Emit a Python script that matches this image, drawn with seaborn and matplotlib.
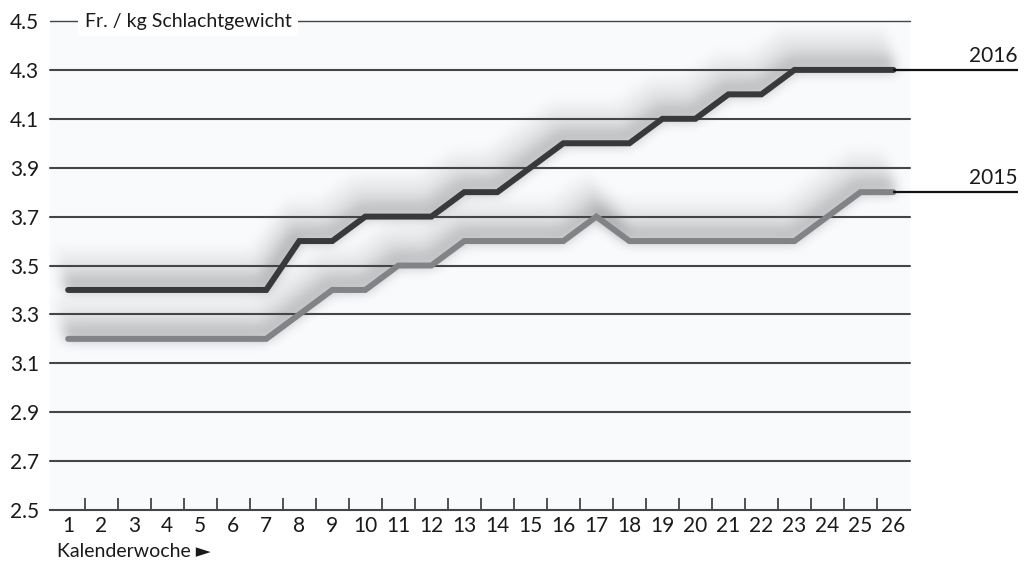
import numpy as np
import pandas as pd
import matplotlib
matplotlib.use("Agg")
import matplotlib.pyplot as plt
import seaborn as sns

# Weekly slaughter-weight prices, CHF per kg
weeks = list(range(1, 27))
price_2016 = [3.4, 3.4, 3.4, 3.4, 3.4, 3.4, 3.4, 3.6, 3.6, 3.7, 3.7, 3.7, 3.8,
              3.8, 3.9, 4.0, 4.0, 4.0, 4.1, 4.1, 4.2, 4.2, 4.3, 4.3, 4.3, 4.3]
price_2015 = [3.2, 3.2, 3.2, 3.2, 3.2, 3.2, 3.2, 3.3, 3.4, 3.4, 3.5, 3.5, 3.6,
              3.6, 3.6, 3.6, 3.7, 3.6, 3.6, 3.6, 3.6, 3.6, 3.6, 3.7, 3.8, 3.8]
years = ["2016", "2015"]
y_ticks = [2.5, 2.7, 2.9, 3.1, 3.3, 3.5, 3.7, 3.9, 4.1, 4.3, 4.5]
unit_label = "Fr. / kg Schlachtgewicht"
x_label = "Kalenderwoche \u25ba"

df = pd.concat([
    pd.DataFrame({"Woche": weeks, "Preis": price_2016, "Jahr": "2016"}),
    pd.DataFrame({"Woche": weeks, "Preis": price_2015, "Jahr": "2015"}),
])

sns.set_theme(style="white")
plt.rcParams["font.family"] = ["Lato", "DejaVu Sans"]
FS = 15
FS_SMALL = 14

line_colors = {"2016": "#393939", "2015": "#838387"}
grid_color = "#454545"
text_color = "#1a1a1a"


def gauss_blur(a, sigma):
    r = int(3 * sigma)
    x = np.arange(-r, r + 1)
    k = np.exp(-x ** 2 / (2.0 * sigma ** 2))
    k /= k.sum()
    p = np.pad(a, ((r, r), (0, 0)))
    b = sum(k[i] * p[i:i + a.shape[0]] for i in range(2 * r + 1))
    p = np.pad(b, ((0, 0), (r, r)))
    return sum(k[i] * p[:, i:i + a.shape[1]] for i in range(2 * r + 1))


class SoftShadow:
    """agg filter: smears a drawn line upward-left, fading with distance,
    then softens it into a dark translucent shadow."""

    def __init__(self, reach=42, decay=17.0, slant=0.3, sigma=6.0, strength=0.8):
        self.reach, self.decay, self.slant = reach, decay, slant
        self.sigma, self.strength = sigma, strength

    def __call__(self, im, dpi):
        pad = self.reach + int(3 * self.sigma) + 4
        a = np.pad(im[:, :, 3].astype(float), pad)
        w = np.exp(-np.arange(self.reach) / self.decay)
        w /= w.sum()
        acc = np.zeros_like(a)
        for k, wk in enumerate(w):
            shifted = np.roll(a, -k, axis=0)
            shifted = np.roll(shifted, -int(round(k * self.slant)), axis=1)
            acc += wk * shifted
        acc = gauss_blur(acc, self.sigma)
        out = np.zeros(a.shape + (4,))
        out[..., 3] = np.clip(acc * self.strength, 0, 1)
        return out, -pad, -pad


fig = plt.figure(figsize=(10.24, 5.66), dpi=100)
fig.patch.set_facecolor("white")
ax = fig.add_axes([50 / 1024, 1 - 510 / 566, 860 / 1024, (510 - 21) / 566])
ax.set_facecolor("#f9fafc")

# soft shadows rising above the price lines
sns.lineplot(data=df, x="Woche", y="Preis", hue="Jahr", hue_order=years,
             palette={"2016": "#000000", "2015": "#000000"}, linewidth=5.5,
             legend=False, ax=ax)
for ln in ax.lines:
    ln.set_agg_filter(SoftShadow())
    ln.set_zorder(1)
n_shadow = len(ax.lines)

# price lines
sns.lineplot(data=df, x="Woche", y="Preis", hue="Jahr", hue_order=years,
             palette=line_colors, linewidth=4.3, legend=False, ax=ax)
for ln in ax.lines[n_shadow:]:
    ln.set_zorder(3)
    ln.set_solid_capstyle("round")
    ln.set_solid_joinstyle("miter")

# horizontal rules
for v in y_ticks[1:]:
    ax.axhline(v, color=grid_color, lw=1.5 if v < 4.45 else 1.0,
               zorder=2, clip_on=False)

ax.set_xlim(0.45, 26.5)
ax.set_ylim(2.5, 4.5)
for side in ["top", "right", "left"]:
    ax.spines[side].set_visible(False)
ax.spines["bottom"].set_color(grid_color)
ax.spines["bottom"].set_linewidth(1.5)
ax.spines["bottom"].set_zorder(2)

ax.set_xticks(weeks)
ax.set_xticklabels([str(w) for w in weeks], fontsize=FS, color=text_color)
ax.set_xticks([w + 0.5 for w in weeks[:-1]], minor=True)
ax.tick_params(axis="x", which="major", length=0, pad=4)
ax.tick_params(axis="x", which="minor", direction="in", length=9,
               width=1.3, color=grid_color, bottom=True)
ax.set_yticks(y_ticks)
ax.set_yticklabels([f"{v:.1f}" for v in y_ticks], fontsize=FS, color=text_color)
ax.tick_params(axis="y", length=0, pad=8)
ax.set_xlabel("")
ax.set_ylabel("")

ax.text(1.5, 4.5, unit_label, fontsize=FS_SMALL, color=text_color, ha="left",
        va="center", zorder=5,
        bbox=dict(boxstyle="square,pad=0.35", fc="white", ec="none"))
ax.text(0.65, 2.33, x_label, fontsize=FS_SMALL, color=text_color, ha="left",
        va="center", clip_on=False)

# year labels to the right of the line ends
label_end = 29.77
for year, series in zip(years, [price_2016, price_2015]):
    y_end = series[-1]
    ax.plot([weeks[-1], label_end], [y_end, y_end], color="#111111", lw=1.6,
            zorder=4, clip_on=False, solid_capstyle="butt")
    ax.annotate(year, xy=(label_end, y_end), xytext=(0, 3),
                textcoords="offset points", ha="right", va="bottom",
                fontsize=FS, color=text_color, annotation_clip=False)

fig.savefig("out.png", dpi=100, facecolor="white")
